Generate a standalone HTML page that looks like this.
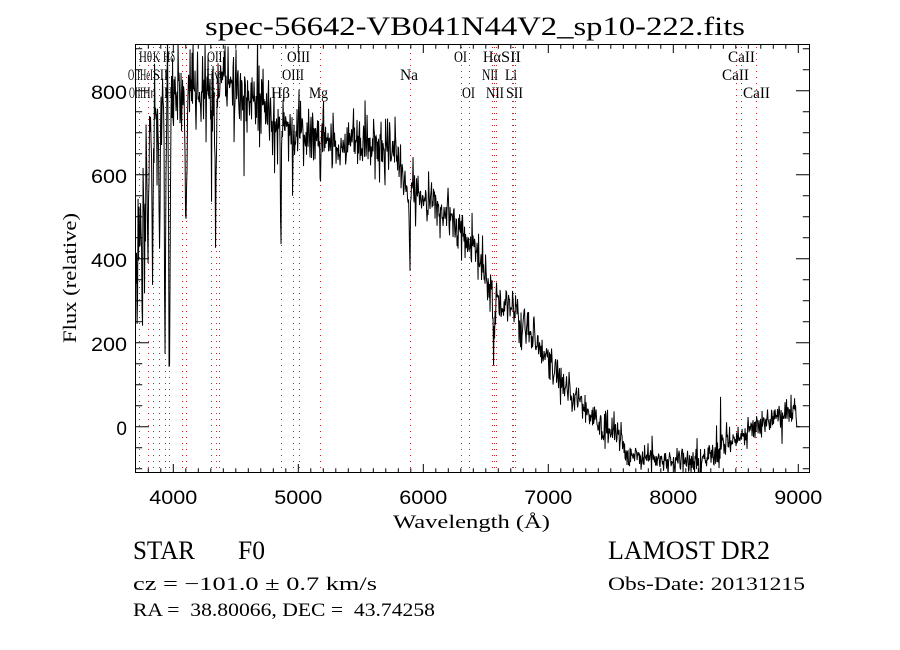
<!DOCTYPE html>
<html><head><meta charset="utf-8">
<style>
html,body{margin:0;padding:0;background:#fff;}
svg{display:block}
text{font-family:"Liberation Serif",serif;fill:#000}
.tk{font-family:"Liberation Sans",sans-serif;font-size:19px}
.ln{font-size:16px}
</style></head>
<body>
<svg id="s" width="900" height="650" viewBox="0 0 900 650" xmlns="http://www.w3.org/2000/svg">
<rect width="900" height="650" fill="#fff"/>
<defs><clipPath id="c"><rect x="136" y="45" width="674" height="427"/></clipPath></defs>
<g id="dots" stroke="#c02828" stroke-width="1" stroke-dasharray="1 5" fill="none"></g>
<path id="spec" fill="none" stroke="#000" stroke-width="1" clip-path="url(#c)"/>
<rect x="135.5" y="44.5" width="674" height="428" fill="none" stroke="#000" stroke-width="1"/>
<path id="ticks" fill="none" stroke="#000" stroke-width="1"/>

<!-- title -->
<text x="205" y="35" font-size="26" textLength="540" lengthAdjust="spacingAndGlyphs">spec-56642-VB041N44V2_sp10-222.fits</text>

<!-- x tick labels -->
<text class="tk" x="173.3" y="504" text-anchor="middle" textLength="48" lengthAdjust="spacingAndGlyphs">4000</text>
<text class="tk" x="298.3" y="504" text-anchor="middle" textLength="48" lengthAdjust="spacingAndGlyphs">5000</text>
<text class="tk" x="423.3" y="504" text-anchor="middle" textLength="48" lengthAdjust="spacingAndGlyphs">6000</text>
<text class="tk" x="548.3" y="504" text-anchor="middle" textLength="48" lengthAdjust="spacingAndGlyphs">7000</text>
<text class="tk" x="673.3" y="504" text-anchor="middle" textLength="48" lengthAdjust="spacingAndGlyphs">8000</text>
<text class="tk" x="798.3" y="504" text-anchor="middle" textLength="48" lengthAdjust="spacingAndGlyphs">9000</text>

<!-- y tick labels -->
<text class="tk" x="127" y="435" text-anchor="end">0</text>
<text class="tk" x="127" y="351" text-anchor="end" textLength="36" lengthAdjust="spacingAndGlyphs">200</text>
<text class="tk" x="127" y="267" text-anchor="end" textLength="36" lengthAdjust="spacingAndGlyphs">400</text>
<text class="tk" x="127" y="183" text-anchor="end" textLength="36" lengthAdjust="spacingAndGlyphs">600</text>
<text class="tk" x="127" y="99" text-anchor="end" textLength="36" lengthAdjust="spacingAndGlyphs">800</text>

<!-- axis titles -->
<text x="393" y="528" font-size="19" textLength="157" lengthAdjust="spacingAndGlyphs">Wavelength (Å)</text>
<text transform="translate(76,278) rotate(-90)" font-size="19" text-anchor="middle" textLength="130" lengthAdjust="spacingAndGlyphs">Flux (relative)</text>

<!-- line labels row1 -->
<g class="ln">
<text class="ln" x="139" y="62" textLength="13" lengthAdjust="spacingAndGlyphs">Hθ</text>
<text class="ln" x="153" y="62" textLength="7" lengthAdjust="spacingAndGlyphs">K</text>
<text class="ln" x="163" y="62" textLength="12" lengthAdjust="spacingAndGlyphs">Hδ</text>
<text class="ln" x="207" y="62" textLength="19" lengthAdjust="spacingAndGlyphs">OIII</text>
<text class="ln" x="287" y="62" textLength="23" lengthAdjust="spacingAndGlyphs">OIII</text>
<text class="ln" x="454" y="62" textLength="13" lengthAdjust="spacingAndGlyphs">OI</text>
<text class="ln" x="483" y="62" textLength="18" lengthAdjust="spacingAndGlyphs">Hα</text>
<text class="ln" x="501" y="62" textLength="20" lengthAdjust="spacingAndGlyphs">SII</text>
<text class="ln" x="728" y="62" textLength="27" lengthAdjust="spacingAndGlyphs">CaII</text>
<!-- row2 -->
<text class="ln" x="128" y="80" textLength="12" lengthAdjust="spacingAndGlyphs">OII</text>
<text class="ln" x="140" y="80" textLength="13" lengthAdjust="spacingAndGlyphs">HeI</text>
<text class="ln" x="153" y="80" textLength="15" lengthAdjust="spacingAndGlyphs">SII</text>
<text class="ln" x="206" y="80" textLength="14" lengthAdjust="spacingAndGlyphs">Hγ</text>
<text class="ln" x="282" y="80" textLength="22" lengthAdjust="spacingAndGlyphs">OIII</text>
<text class="ln" x="400" y="80" textLength="18" lengthAdjust="spacingAndGlyphs">Na</text>
<text class="ln" x="482" y="80" textLength="16" lengthAdjust="spacingAndGlyphs">NII</text>
<text class="ln" x="505" y="80" textLength="12" lengthAdjust="spacingAndGlyphs">Li</text>
<text class="ln" x="722" y="80" textLength="27" lengthAdjust="spacingAndGlyphs">CaII</text>
<!-- row3 -->
<text class="ln" x="129" y="98" textLength="14" lengthAdjust="spacingAndGlyphs">OIII</text>
<text class="ln" x="143" y="98" textLength="13" lengthAdjust="spacingAndGlyphs">Hη</text>
<text class="ln" x="164" y="98" textLength="9" lengthAdjust="spacingAndGlyphs">H</text>
<text class="ln" x="207" y="98" textLength="9" lengthAdjust="spacingAndGlyphs">G</text>
<text class="ln" x="271" y="98" textLength="19" lengthAdjust="spacingAndGlyphs">Hβ</text>
<text class="ln" x="309" y="98" textLength="19" lengthAdjust="spacingAndGlyphs">Mg</text>
<text class="ln" x="462" y="98" textLength="13" lengthAdjust="spacingAndGlyphs">OI</text>
<text class="ln" x="486" y="98" textLength="18" lengthAdjust="spacingAndGlyphs">NII</text>
<text class="ln" x="506" y="98" textLength="17" lengthAdjust="spacingAndGlyphs">SII</text>
<text class="ln" x="743" y="98" textLength="27" lengthAdjust="spacingAndGlyphs">CaII</text>
</g>

<!-- bottom info -->
<text x="133" y="559" font-size="26" textLength="62" lengthAdjust="spacingAndGlyphs">STAR</text>
<text x="238" y="559" font-size="26" textLength="27" lengthAdjust="spacingAndGlyphs">F0</text>
<text x="608" y="559" font-size="26" textLength="162" lengthAdjust="spacingAndGlyphs">LAMOST DR2</text>
<text x="133" y="590" font-size="19" textLength="244" lengthAdjust="spacingAndGlyphs">cz = −101.0 ± 0.7 km/s</text>
<text x="608" y="590" font-size="19" textLength="197" lengthAdjust="spacingAndGlyphs">Obs-Date: 20131215</text>
<text x="133" y="616" font-size="19" textLength="302" lengthAdjust="spacingAndGlyphs" xml:space="preserve">RA =  38.80066, DEC =  43.74258</text>
</svg>
<script>
(function(){
var X=function(l){return 173.3+(l-4000)*0.125;};
var Y=function(f){return 426.7-0.42*f;};
var d='';
for(var l=3800;l<=9000;l+=100){var x=X(l).toFixed(1);var L=(l%1000===0)?8.5:4.3;d+='M'+x+' 472.5v'+(-L)+'M'+x+' 44.5v'+L;}
for(var f=-100;f<=900;f+=50){var y=Y(f).toFixed(1);var L2=(f%200===0)?13.5:6.7;d+='M135.5 '+y+'h'+L2+'M809.5 '+y+'h'+(-L2);}
document.getElementById('ticks').setAttribute('d',d);
var wl=[3727,3798,3835,3889,3934,3968,4072,4102,4304,4340,4363,4861,4959,5007,5175,5893,6300,6363,6548,6563,6583,6708,6716,6731,8498,8542,8662];
var g=document.getElementById('dots');var dd='';
for(var i=0;i<wl.length;i++){var xx=Math.round(X(wl[i]))+0.5;dd+='M'+xx+' 47V472';}
var p=document.createElementNS('http://www.w3.org/2000/svg','path');p.setAttribute('d',dd);g.appendChild(p);
var seed=98765;
function R(){seed|=0;seed=seed+0x6D2B79F5|0;var t=Math.imul(seed^seed>>>15,1|seed);t=t+Math.imul(t^t>>>7,61|t)^t;return((t^t>>>14)>>>0)/4294967296;}
function gauss(){var u=1-R(),v=R();return Math.sqrt(-2*Math.log(u))*Math.cos(2*Math.PI*v);}
var nodes=[[3700,410],[3730,460],[3760,560],[3790,660],[3820,730],[3860,760],[3900,775],[4000,780],[4100,795],[4200,800],[4300,805],[4400,815],[4500,805],[4600,785],[4700,765],[4800,740],[4900,715],[5000,700],[5200,690],[5400,680],[5600,668],[5780,660],[5820,610],[5870,570],[5950,545],[6100,525],[6250,495],[6320,455],[6400,420],[6470,375],[6530,330],[6575,300],[6700,290],[6760,260],[6850,225],[6930,200],[7000,150],[7100,115],[7200,75],[7300,42],[7400,12],[7500,-12],[7595,-25],[7610,-68],[7800,-72],[7900,-80],[8050,-86],[8200,-82],[8280,-72],[8400,-45],[8500,-25],[8600,-10],[8700,8],[8800,22],[8900,30],[8984,38]];
function cont(l){for(var i=0;i<nodes.length-1;i++){if(l>=nodes[i][0]&&l<=nodes[i+1][0]){var t=(l-nodes[i][0])/(nodes[i+1][0]-nodes[i][0]);return nodes[i][1]+t*(nodes[i+1][1]-nodes[i][1]);}}return nodes[nodes.length-1][1];}
function amp(l){if(l<3800)return 80;if(l<4000)return 60;if(l<4600)return 50;if(l<5000)return 38;if(l<5900)return 32;if(l<6900)return 27;if(l<7600)return 19;return 16;}
var lines=[[3750,180,4],[3771,200,4],[3798,280,4],[3835,400,4],[3889,360,4],[3934,700,4],[3968,680,5],[4102,330,5],[4304,140,4],[4340,370,5],[4861,290,4],[5175,90,4],[5893,200,3],[6563,150,4]];
var s='';
for(var l=3702;l<=8984;l+=4){
  var f=cont(l);
  for(var k=0;k<lines.length;k++){var q=(l-lines[k][0])/lines[k][2];if(Math.abs(q)<6)f-=lines[k][1]*Math.exp(-0.5*q*q);}
  var n=gauss()*amp(l);if(R()<0.07)n*=2.2;
  f+=n;
  s+=(s?'L':'M')+X(l).toFixed(2)+' '+Y(f).toFixed(2);
}
s+='L'+X(8988).toFixed(2)+' '+Y(0).toFixed(2)+'L'+X(9012).toFixed(2)+' '+Y(0).toFixed(2);
document.getElementById('spec').setAttribute('d',s);
})();
</script>
</body></html>
